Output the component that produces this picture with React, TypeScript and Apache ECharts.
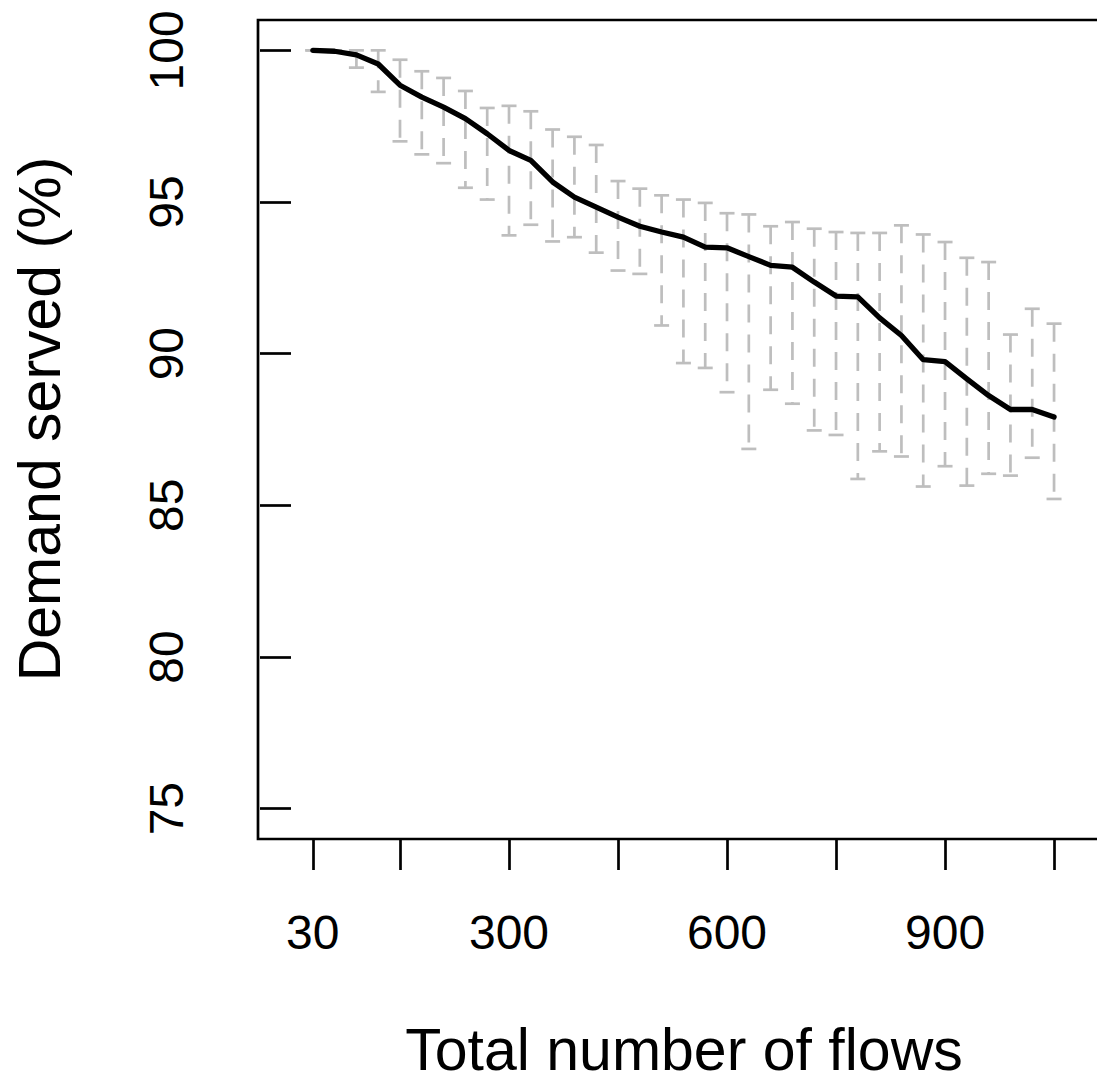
import React, { useEffect, useRef } from "react";
import * as echarts from "echarts";

// Total number of flows (x positions of the measurements)
const flows = [
  30, 60, 90, 120, 150, 180, 210, 240, 270, 300, 330, 360, 390, 420, 450, 480,
  510, 540, 570, 600, 630, 660, 690, 720, 750, 780, 810, 840, 870, 900, 930,
  960, 990, 1020, 1050,
];

// Mean demand served (%)
const meanServed = [
  100, 99.97, 99.85, 99.55, 98.85, 98.46, 98.13, 97.75, 97.25, 96.7, 96.37,
  95.66, 95.16, 94.83, 94.5, 94.2, 94.01, 93.84, 93.51, 93.49, 93.2, 92.91,
  92.85, 92.36, 91.9, 91.87, 91.18, 90.6, 89.8, 89.74, 89.17, 88.62, 88.16,
  88.16, 87.91,
];

// Upper end of the error bars
const upperServed = [
  100, 100, 100, 100, 99.69, 99.31, 99.09, 98.66, 98.1, 98.17, 97.99, 97.39,
  97.15, 96.88, 95.69, 95.44, 95.22, 95.08, 94.97, 94.63, 94.59, 94.2, 94.34,
  94.12, 94.01, 93.98, 93.98, 94.23, 93.93, 93.68, 93.16, 93.02, 90.63, 91.48,
  90.99,
];

// Lower end of the error bars
const lowerServed = [
  100, 99.95, 99.43, 98.63, 97.0, 96.57, 96.28, 95.47, 95.08, 93.9, 94.25,
  93.7, 93.84, 93.33, 92.74, 92.63, 90.93, 89.69, 89.53, 88.73, 86.86, 88.81,
  88.35, 87.47, 87.32, 85.87, 86.78, 86.61, 85.62, 86.29, 85.65, 86.04, 85.98,
  86.57, 85.21,
];

const xTicks = [30, 150, 300, 450, 600, 750, 900, 1050];
const xTickLabels = [30, 300, 600, 900];
const yTicks = [75, 80, 85, 90, 95, 100];

const FONT = "'Liberation Sans', Arial, Helvetica, sans-serif";

export default function App() {
  const ref = useRef<HTMLDivElement>(null);

  useEffect(() => {
    if (!ref.current) return;
    const chart = echarts.init(ref.current, null, { renderer: "svg" });

    const lineData = flows.map((x, i) => [x, meanServed[i]]);
    const barData = flows.map((x, i) => [x, lowerServed[i], upperServed[i]]);

    const gray = "#BEBEBE";

    chart.setOption({
      animation: false,
      backgroundColor: "#fff",
      grid: {
        left: 258,
        top: 20,
        width: 852,
        height: 819,
        show: true,
        borderColor: "#000",
        borderWidth: 2.7,
        backgroundColor: "transparent",
        containLabel: false,
        outerBoundsMode: "none",
      },
      xAxis: {
        type: "value",
        min: -45.4,
        max: 1127,
        axisLine: { show: false },
        splitLine: { show: false },
        axisTick: {
          show: true,
          inside: false,
          length: 31,
          customValues: xTicks,
          lineStyle: { color: "#000", width: 2.7 },
        },
        axisLabel: {
          show: true,
          customValues: xTickLabels,
          fontSize: 48,
          fontFamily: FONT,
          color: "#000",
          margin: 69,
        },
        name: "Total number of flows",
        nameLocation: "middle",
        nameGap: 187,
        nameTextStyle: {
          fontSize: 59,
          lineHeight: 48,
          fontFamily: FONT,
          color: "#000",
        },
      },
      yAxis: {
        type: "value",
        min: 74,
        max: 101,
        axisLine: { show: false },
        splitLine: { show: false },
        axisTick: {
          show: true,
          inside: false,
          length: 31,
          customValues: yTicks,
          lineStyle: { color: "#000", width: 2.7 },
        },
        axisLabel: {
          show: true,
          customValues: yTicks,
          rotate: 90,
          fontSize: 48,
          fontFamily: FONT,
          color: "#000",
          margin: 68,
        },
        name: "Demand served (%)",
        nameLocation: "middle",
        nameRotate: 90,
        nameGap: 189,
        nameTextStyle: {
          fontSize: 59,
          fontFamily: FONT,
          color: "#000",
          padding: [0, 0, 0, 21],
        },
      },
      series: [
        {
          type: "custom",
          name: "range",
          data: barData,
          encode: { x: 0, y: [1, 2] },
          z: 2,
          renderItem: (params: any, api: any) => {
            const x = api.value(0);
            const lo = api.value(1);
            const hi = api.value(2);
            const pHi = api.coord([x, hi]);
            const pLo = api.coord([x, lo]);
            const w = 7.5;
            const style = { stroke: gray, lineWidth: 2.7, fill: null };
            return {
              type: "group",
              children: [
                {
                  type: "line",
                  shape: { x1: pHi[0], y1: pHi[1], x2: pLo[0], y2: pLo[1] },
                  style: { ...style, lineDash: [18, 12] },
                },
                {
                  type: "line",
                  shape: { x1: pHi[0] - w, y1: pHi[1], x2: pHi[0] + w, y2: pHi[1] },
                  style,
                },
                {
                  type: "line",
                  shape: { x1: pLo[0] - w, y1: pLo[1], x2: pLo[0] + w, y2: pLo[1] },
                  style,
                },
              ],
            };
          },
        },
        {
          type: "line",
          name: "mean",
          data: lineData,
          showSymbol: false,
          symbol: "none",
          z: 3,
          lineStyle: { color: "#000", width: 5.3, cap: "round", join: "round" },
        },
      ],
    });

    return () => chart.dispose();
  }, []);

  return (
    <div
      ref={ref}
      style={{ position: "fixed", left: 0, top: 0, width: 1097, height: 1078 }}
    />
  );
}
